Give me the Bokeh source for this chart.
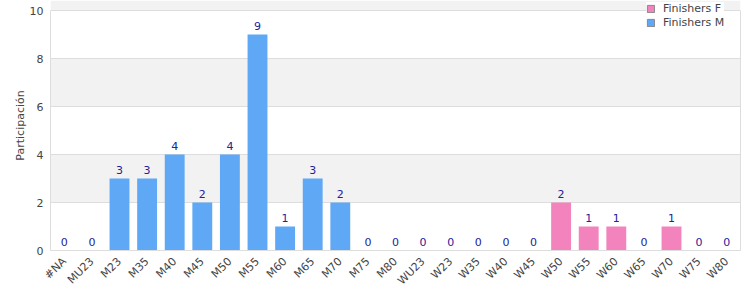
import math
from bokeh.plotting import figure
from bokeh.models import ColumnDataSource, LabelSet, Legend, LegendItem, LinearAxis, FixedTicker
from bokeh.core.properties import value
from bokeh.embed import file_html
from bokeh.resources import INLINE

categories = ["#NA", "MU23", "M23", "M35", "M40", "M45", "M50", "M55", "M60", "M65",
              "M70", "M75", "M80", "WU23", "W23", "W35", "W40", "W45", "W50", "W55",
              "W60", "W65", "W70", "W75", "W80"]
finishers_m = [0, 0, 3, 3, 4, 2, 4, 9, 1, 3, 2, 0, 0, 0, 0, 0, 0, 0, 0, 0, 0, 0, 0, 0, 0]
finishers_f = [0, 0, 0, 0, 0, 0, 0, 0, 0, 0, 0, 0, 0, 0, 0, 0, 0, 0, 2, 1, 1, 0, 1, 0, 0]
y_ticks = [0, 2, 4, 6, 8, 10]
series_names = ["Finishers F", "Finishers M"]

FONT = "DejaVu Sans"
BLUE = "#5fa8f5"
PINK = "#f283bd"
BORDER = "#dddddd"
totals = [m + f for m, f in zip(finishers_m, finishers_f)]
src = ColumnDataSource(dict(cat=categories, m=finishers_m, f=finishers_f,
                            tot=totals, lbl=[str(t) for t in totals]))

# frame spans the full height above the x axis so the legend can sit over the top edge
y_max = y_ticks[-1]
y_end = y_max * 250 / 240

p = figure(x_range=categories, y_range=(0, y_end), width=750, height=300,
           output_backend="svg", toolbar_location=None,
           min_border_left=50, min_border_right=10, min_border_top=0, min_border_bottom=50)

rm = p.vbar(x="cat", top="m", width=0.72, source=src, fill_color=BLUE, line_color=None)
rf = p.vbar(x="cat", top="f", width=0.72, source=src, fill_color=PINK, line_color=None)

# legend swatches: kept below the visible range, used only for the legend glyphs
swatch = ColumnDataSource(dict(cat=[categories[0]], lo=[-2], hi=[-1]))
lf = p.vbar(x="cat", bottom="lo", top="hi", width=0.72, source=swatch,
            fill_color=PINK, line_color="#888888")
lm = p.vbar(x="cat", bottom="lo", top="hi", width=0.72, source=swatch,
            fill_color=BLUE, line_color="#888888")

labels = LabelSet(x="cat", y="tot", text="lbl", source=src, y_offset=5,
                  text_align="center", text_baseline="bottom",
                  text_font=value(FONT), text_font_size=value("11px"), text_color="#22229a")
p.add_layout(labels)

p.outline_line_color = None
p.xgrid.grid_line_color = None
p.ygrid.grid_line_color = BORDER
p.ygrid.band_fill_color = "#f2f2f2"
p.ygrid.band_fill_alpha = 1.0
p.ygrid.ticker = FixedTicker(ticks=y_ticks)

left = p.yaxis[0]
bottom = p.xaxis[0]
left.ticker = FixedTicker(ticks=y_ticks)
left.bounds = (0, y_max)

right_axis = LinearAxis(bounds=(0, y_max), ticker=FixedTicker(ticks=[]),
                        axis_line_color=BORDER, major_tick_line_color=None,
                        minor_tick_line_color=None, major_tick_out=0, minor_tick_out=0,
                        major_label_text_font_size="0px", major_label_standoff=0)
p.add_layout(right_axis, "right")

for ax in (bottom, left):
    ax.axis_line_color = BORDER
    ax.major_tick_line_color = None
    ax.minor_tick_line_color = None
    ax.major_tick_out = 0
    ax.major_tick_in = 0
    ax.minor_tick_out = 0
    ax.minor_tick_in = 0
    ax.major_label_text_font = FONT
    ax.major_label_text_color = "#444444"

left.major_label_text_font_size = "11px"
left.major_label_standoff = 7
bottom.major_label_text_font_size = "11px"
bottom.major_label_orientation = math.pi / 4
bottom.major_label_standoff = 9

left.axis_label = "Participación"
left.axis_label_text_font = FONT
left.axis_label_text_font_size = "11px"
left.axis_label_text_font_style = "normal"
left.axis_label_text_color = "#444444"
left.axis_label_standoff = 0

legend = Legend(items=[LegendItem(label=series_names[0], renderers=[lf]),
                       LegendItem(label=series_names[1], renderers=[lm])],
                location=(596, 221), orientation="vertical",
                label_text_font=FONT, label_text_font_size="11px", label_text_color="#444444",
                glyph_width=9, glyph_height=9, label_height=13, label_standoff=8,
                spacing=1, padding=3, margin=0,
                border_line_color=None, background_fill_color="white", background_fill_alpha=1.0)
p.add_layout(legend)

open("out.html", "w").write(file_html(p, INLINE))
